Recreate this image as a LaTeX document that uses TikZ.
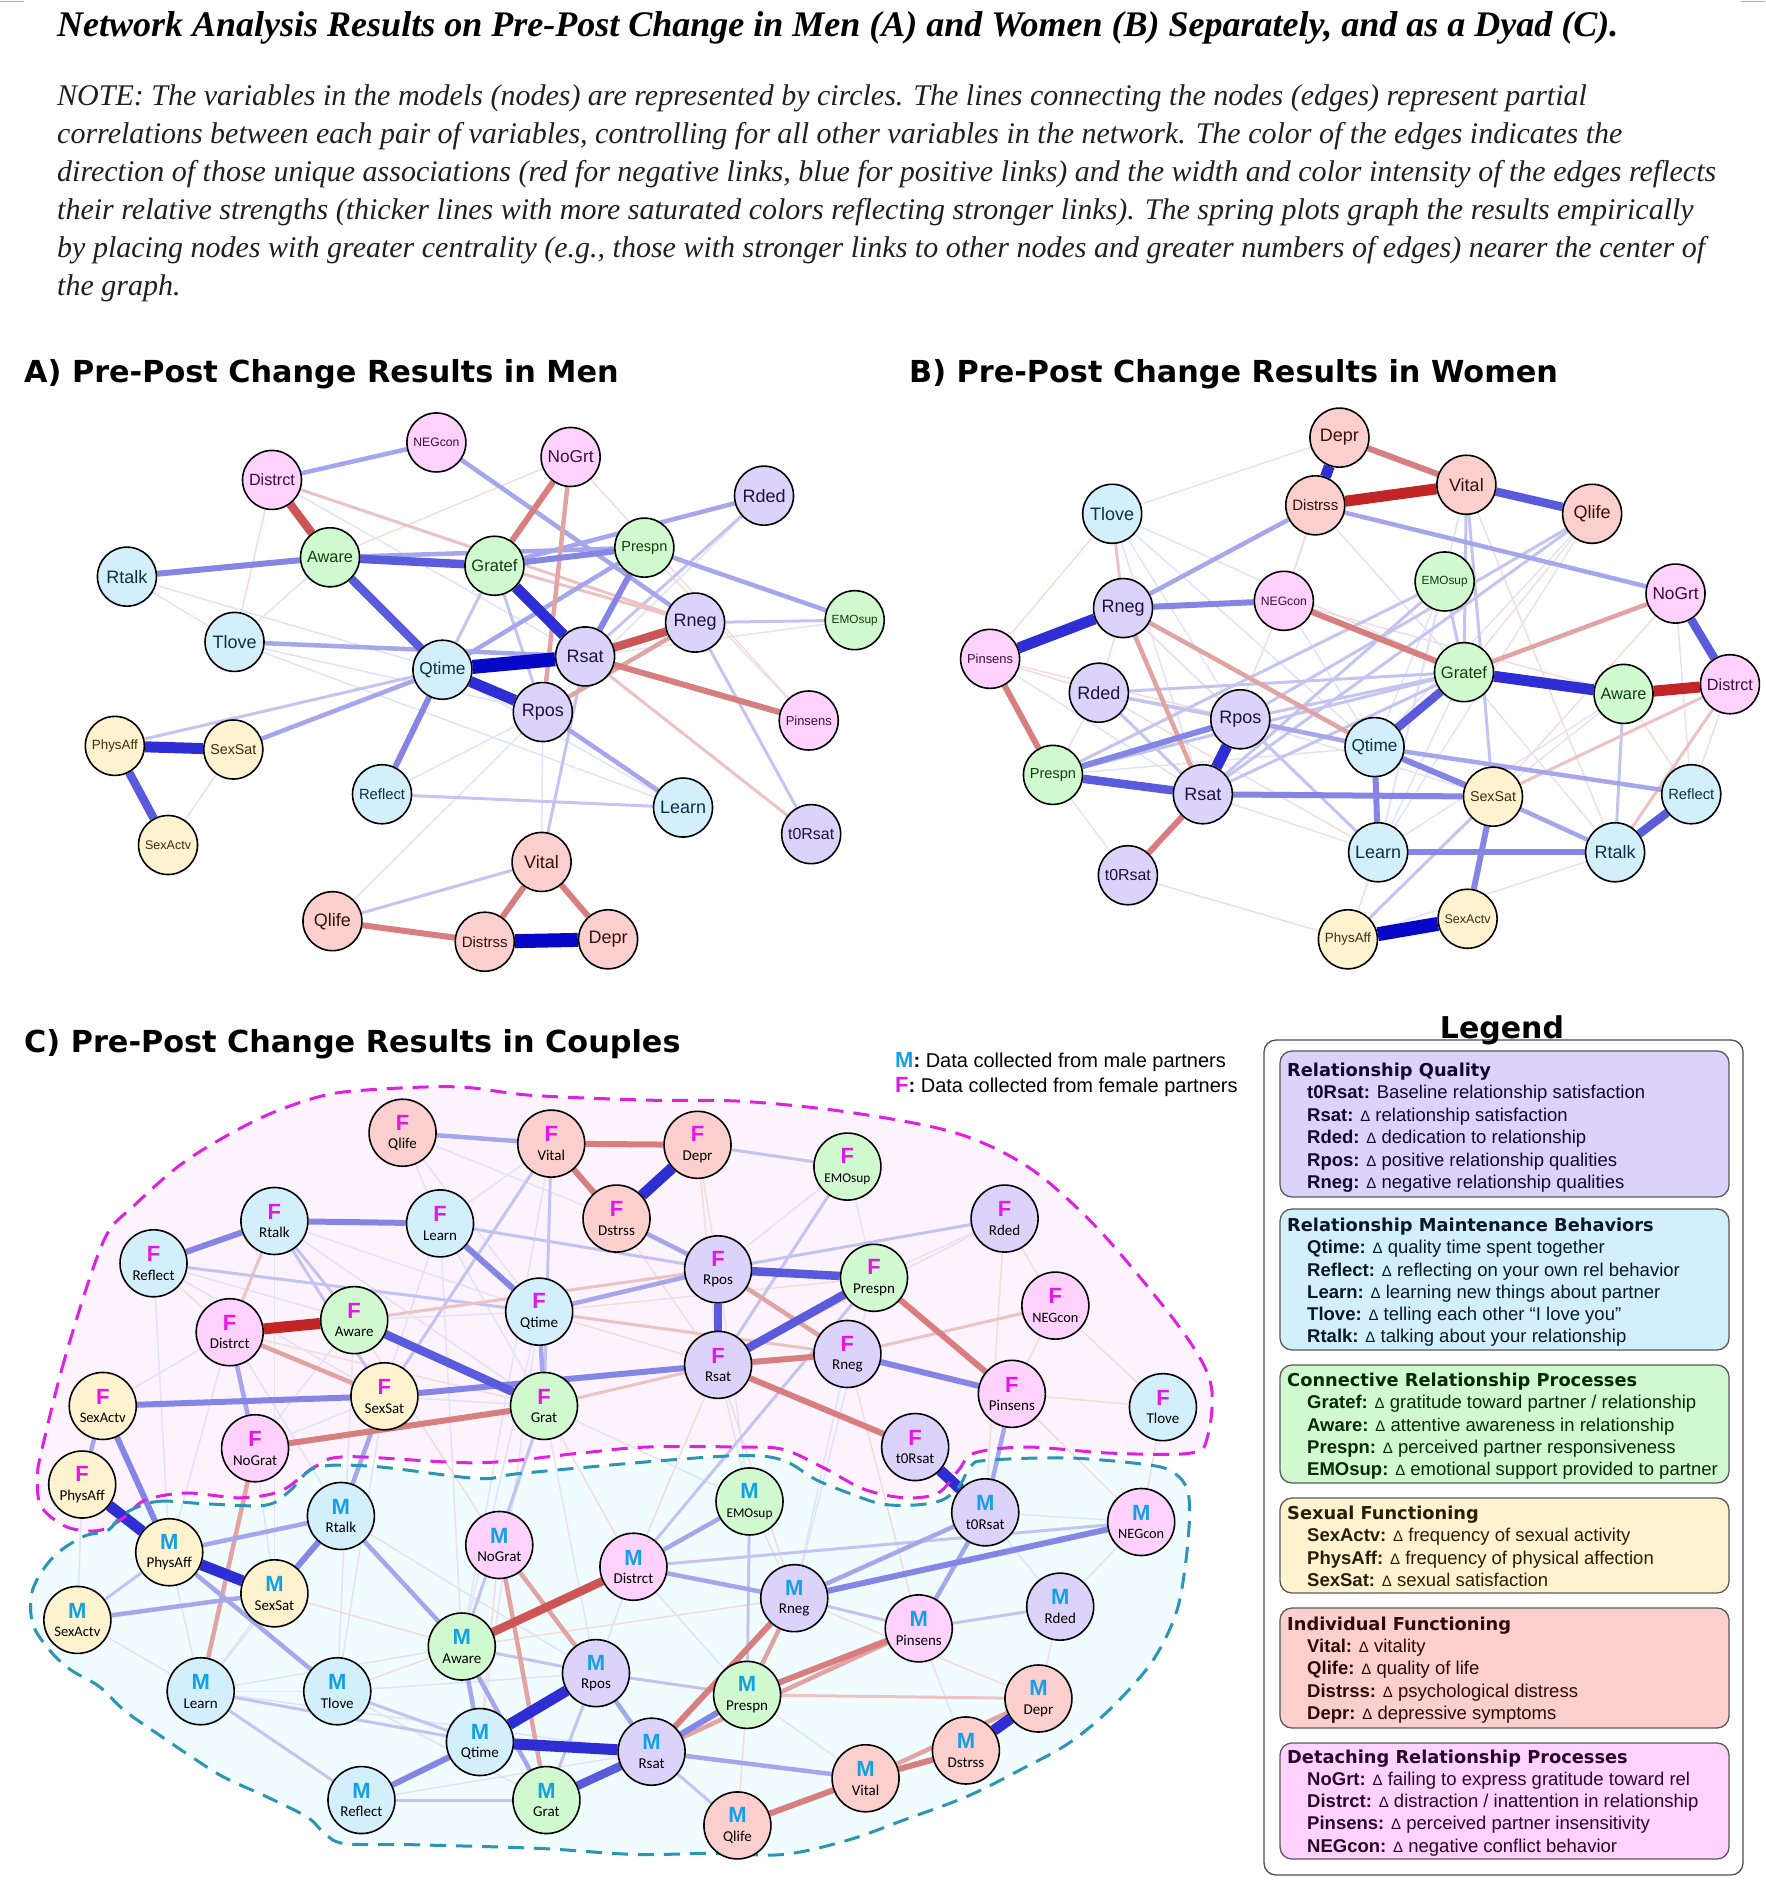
\documentclass[tikz,border=0pt]{standalone}
\usepackage{fontspec}
\setmainfont{Liberation Serif}
\newfontfamily\arialf{Liberation Sans}
\newfontfamily\dejaf{DejaVu Sans}
\newfontfamily\carlf{Carlito}
\usepackage{graphicx}
\pgfdeclarelayer{back}
\pgfdeclarelayer{edges}
\pgfdeclarelayer{mid}
\pgfsetlayers{back,edges,mid,main}
\definecolor{cPur}{HTML}{DCD3FB}
\definecolor{cBlu}{HTML}{D3EFFB}
\definecolor{cGrn}{HTML}{D1F9CF}
\definecolor{cYel}{HTML}{FFF2CF}
\definecolor{cRed}{HTML}{FACFCD}
\definecolor{cMag}{HTML}{FED2FD}
\definecolor{tPur}{HTML}{201040}
\definecolor{tBlu}{HTML}{0F2F45}
\definecolor{tGrn}{HTML}{0F3F0F}
\definecolor{tYel}{HTML}{3A2E10}
\definecolor{tRed}{HTML}{3A0F0F}
\definecolor{tMag}{HTML}{3A0F3A}
\definecolor{BL1}{HTML}{E2E2F8}
\definecolor{BL2}{HTML}{C4C4F2}
\definecolor{BL3}{HTML}{A6A6EC}
\definecolor{BL4}{HTML}{8585E6}
\definecolor{BL5}{HTML}{5A5ADD}
\definecolor{BL6}{HTML}{2E2ED4}
\definecolor{BL7}{HTML}{0707C8}
\definecolor{RD1}{HTML}{F4DCDC}
\definecolor{RD2}{HTML}{ECC2C2}
\definecolor{RD3}{HTML}{E2A3A3}
\definecolor{RD4}{HTML}{D97E7E}
\definecolor{RD5}{HTML}{CE5555}
\definecolor{RD6}{HTML}{C22525}
\definecolor{cF}{HTML}{E616E6}
\definecolor{cM}{HTML}{14A0E6}
\definecolor{cFo}{HTML}{E020E0}
\definecolor{cMo}{HTML}{2A95B5}
\definecolor{cFfill}{HTML}{FDF3FD}
\definecolor{cMfill}{HTML}{F0FCFD}
\definecolor{hPur}{HTML}{100830}
\definecolor{hBlu}{HTML}{081828}
\definecolor{hGrn}{HTML}{082808}
\definecolor{hYel}{HTML}{281E08}
\definecolor{hRed}{HTML}{300808}
\definecolor{hMag}{HTML}{280828}
\newsavebox\labbox
\newcommand\fitlab[2]{\sbox\labbox{#2}\ifdim\wd\labbox>#1\relax\resizebox{#1}{!}{\usebox\labbox}\else\usebox\labbox\fi}
\newcommand\letF{{\arialf\bfseries\fontsize{22}{22}\selectfont\color{cF}F}}
\newcommand\letM{{\arialf\bfseries\fontsize{22}{22}\selectfont\color{cM}M}}
\newcommand\gnA[4]{\node[an,#2] (#1) at (#3) {\fitlab{46pt}{#4}};}
\newcommand\gnF[4]{\node[#2,cn] (#1) at (#3) {\letF\\\fitlab{46pt}{#4}};}
\newcommand\gnM[4]{\node[#2,cn] (#1) at (#3) {\letM\\\fitlab{46pt}{#4}};}
\newcommand\dlt{{\fontsize{15}{15}\selectfont Δ}}
\newcommand\legH[4]{\node[anchor=base west,inner sep=0pt,font=\dejaf\bfseries\fontsize{17.8}{20}\selectfont,text=#4] (#1) at (1287,#2) {#3};}
\newcommand\legE[5]{\node[anchor=base west,inner sep=0pt,font=\arialf\fontsize{18.5}{20}\selectfont,text=#5] (#1) at (1307,#2) {\textbf{#3:} \dlt\ #4};}
\tikzset{
 an/.style={circle,draw=black,line width=1.6pt,minimum size=59pt,inner sep=0pt,font=\arialf\fontsize{18}{20}\selectfont},
 cn/.style={circle,draw=black,line width=1.6pt,minimum size=67pt,inner sep=0pt,align=center,font=\carlf\fontsize{15}{18.5}\selectfont,text=black},
 pur/.style={fill=cPur,text=tPur},
 blu/.style={fill=cBlu,text=tBlu},
 grn/.style={fill=cGrn,text=tGrn},
 yel/.style={fill=cYel,text=tYel},
 red/.style={fill=cRed,text=tRed},
 mag/.style={fill=cMag,text=tMag},
 p1/.style={line width=1.5pt,draw=BL1},
 p2/.style={line width=3pt,draw=BL2},
 p3/.style={line width=4.5pt,draw=BL3},
 p4/.style={line width=6pt,draw=BL4},
 p5/.style={line width=8.5pt,draw=BL5},
 p6/.style={line width=11pt,draw=BL6},
 p7/.style={line width=14pt,draw=BL7},
 n1/.style={line width=1.5pt,draw=RD1},
 n2/.style={line width=3pt,draw=RD2},
 n3/.style={line width=4.5pt,draw=RD3},
 n4/.style={line width=6pt,draw=RD4},
 n5/.style={line width=8.5pt,draw=RD5},
 n6/.style={line width=11pt,draw=RD6},
 fline/.style={cFo,line width=3pt,dash pattern=on 16pt off 10pt},
 mline/.style={cMo,line width=3pt,dash pattern=on 16pt off 10pt},
 notetxt/.style={anchor=base west,inner sep=0pt,font=\fontsize{30}{33}\selectfont\itshape,text=black!88},
 headtxt/.style={anchor=base west,inner sep=0pt,font=\dejaf\bfseries\fontsize{30.3}{34}\selectfont},
 legbox/.style={rounded corners=12pt,draw=black!65,line width=1.3pt}
}
\def\fpath{(34,1202) (51,1133) (72,1064) (89,1020) (110,998) (154,960) (213,926) (261,908) (298,902) (377,899) (439,906) (535,910) (614,911) (702,920) (790,937) (850,965) (901,1009) (945,1059) (985,1111) (1002,1147) (999,1188) (985,1202) (918,1202) (850,1197) (806,1202) (793,1216) (776,1235) (749,1239) (715,1232) (681,1214) (648,1199) (614,1197) (535,1197) (480,1202) (395,1210) (288,1205) (261,1213) (233,1233) (199,1239) (154,1235) (120,1241) (103,1255) (82,1266) (55,1263) (34,1246) (31,1222)}
\def\mpath{(103,1252) (130,1242) (171,1244) (220,1245) (240,1233) (261,1214) (309,1213) (395,1223) (429,1219) (538,1209) (614,1204) (648,1208) (675,1224) (702,1235) (729,1244) (756,1245) (779,1241) (793,1230) (803,1213) (816,1208) (884,1206) (952,1212) (972,1219) (982,1232) (984,1255) (980,1299) (972,1337) (952,1376) (918,1414) (884,1442) (844,1464) (800,1486) (749,1505) (702,1522) (648,1534) (590,1533) (525,1534) (446,1529) (343,1526) (285,1525) (268,1516) (254,1503) (220,1486) (185,1470) (158,1453) (130,1434) (103,1415) (82,1395) (58,1381) (41,1365) (27,1343) (27,1315) (44,1288) (69,1271) (89,1266)}
\begin{document}
\begin{tikzpicture}[x=1pt,y=-1pt]
\useasboundingbox (0,0) rectangle (1765,1895);
\draw[black!30,line width=1pt] (0,1.5) -- (24,1.5);
\draw[black!30,line width=1pt] (1741,1.5) -- (1765,1.5);
% title and note
\node[anchor=base west,inner sep=0pt,font=\fontsize{36}{38}\selectfont\bfseries\itshape] (title) at (57,36) {Network Analysis Results on Pre-Post Change in Men (A) and Women (B) Separately, and as a Dyad (C).};
\node[notetxt] (note1) at (57,105) {NOTE: The variables in the models (nodes) are represented by circles. The lines connecting the nodes (edges) represent partial};
\node[notetxt] (note2) at (57,143) {correlations between each pair of variables, controlling for all other variables in the network. The color of the edges indicates the};
\node[notetxt] (note3) at (57,181) {direction of those unique associations (red for negative links, blue for positive links) and the width and color intensity of the edges reflects};
\node[notetxt] (note4) at (57,219) {their relative strengths (thicker lines with more saturated colors reflecting stronger links). The spring plots graph the results empirically};
\node[notetxt] (note5) at (57,257) {by placing nodes with greater centrality (e.g., those with stronger links to other nodes and greater numbers of edges) nearer the center of};
\node[notetxt] (note6) at (57,295) {the graph.};
% headings
\node[headtxt] (headA) at (24,382) {A) Pre-Post Change Results in Men};
\node[headtxt] (headB) at (909,382) {B) Pre-Post Change Results in Women};
\node[headtxt] (headC) at (24,1052) {C) Pre-Post Change Results in Couples};
% M/F key
\node[anchor=base west,inner sep=0pt,font=\arialf\fontsize{20}{22}\selectfont] (keyM) at (895,1067) {{\fontsize{22}{22}\selectfont\bfseries\color{cM}M}\textbf{:} Data collected from male partners};
\node[anchor=base west,inner sep=0pt,font=\arialf\fontsize{20}{22}\selectfont] (keyF) at (895,1092) {{\fontsize{22}{22}\selectfont\bfseries\color{cF}F}\textbf{:} Data collected from female partners};
% legend
\draw[legbox,draw=black!70,fill=white] (1264,1040) rectangle (1743,1875);
\node[anchor=base,inner sep=0pt,font=\dejaf\bfseries\fontsize{30}{32}\selectfont] (legtitle) at (1502,1038) {Legend};
\draw[legbox,fill=cPur] (1280,1051) rectangle (1729,1197);
\draw[legbox,fill=cBlu] (1280,1209) rectangle (1729,1350);
\draw[legbox,fill=cGrn] (1280,1365) rectangle (1729,1483);
\draw[legbox,fill=cYel] (1280,1498) rectangle (1729,1593);
\draw[legbox,fill=cRed] (1280,1608) rectangle (1729,1728);
\draw[legbox,fill=cMag] (1280,1743) rectangle (1729,1859);
\legH{lh1}{1076}{Relationship Quality}{hPur}
\node[anchor=base west,inner sep=0pt,font=\arialf\fontsize{18.5}{20}\selectfont,text=hPur] (le11) at (1307,1098) {\textbf{t0Rsat:} Baseline relationship satisfaction};
\legE{le12}{1121}{Rsat}{relationship satisfaction}{hPur}
\legE{le13}{1143}{Rded}{dedication to relationship}{hPur}
\legE{le14}{1166}{Rpos}{positive relationship qualities}{hPur}
\legE{le15}{1188}{Rneg}{negative relationship qualities}{hPur}
\legH{lh2}{1231}{Relationship Maintenance Behaviors}{hBlu}
\legE{le21}{1253}{Qtime}{quality time spent together}{hBlu}
\legE{le22}{1276}{Reflect}{reflecting on your own rel behavior}{hBlu}
\legE{le23}{1298}{Learn}{learning new things about partner}{hBlu}
\legE{le24}{1320}{Tlove}{telling each other “I love you”}{hBlu}
\legE{le25}{1342}{Rtalk}{talking about your relationship}{hBlu}
\legH{lh3}{1386}{Connective Relationship Processes}{hGrn}
\legE{le31}{1408}{Gratef}{gratitude toward partner / relationship}{hGrn}
\legE{le32}{1431}{Aware}{attentive awareness in relationship}{hGrn}
\legE{le33}{1453}{Prespn}{perceived partner responsiveness}{hGrn}
\legE{le34}{1475}{EMOsup}{emotional support provided to partner}{hGrn}
\legH{lh4}{1519}{Sexual Functioning}{hYel}
\legE{le41}{1541}{SexActv}{frequency of sexual activity}{hYel}
\legE{le42}{1564}{PhysAff}{frequency of physical affection}{hYel}
\legE{le43}{1586}{SexSat}{sexual satisfaction}{hYel}
\legH{lh5}{1630}{Individual Functioning}{hRed}
\legE{le51}{1652}{Vital}{vitality}{hRed}
\legE{le52}{1674}{Qlife}{quality of life}{hRed}
\legE{le53}{1697}{Distrss}{psychological distress}{hRed}
\legE{le54}{1719}{Depr}{depressive symptoms}{hRed}
\legH{lh6}{1763}{Detaching Relationship Processes}{hMag}
\legE{le61}{1785}{NoGrt}{failing to express gratitude toward rel}{hMag}
\legE{le62}{1807}{Distrct}{distraction / inattention in relationship}{hMag}
\legE{le63}{1829}{Pinsens}{perceived partner insensitivity}{hMag}
\legE{le64}{1852}{NEGcon}{negative conflict behavior}{hMag}

\begin{scope}[x=1.2089pt,y=-1.2089pt]
% ---------------- Panel A ----------------
\gnA{a-NEGcon}{mag}{361,366}{NEGcon}
\gnA{a-NoGrt}{mag}{472,378}{NoGrt}
\gnA{a-Distrct}{mag}{225,397}{Distrct}
\gnA{a-Rded}{pur}{632,410}{Rded}
\gnA{a-Aware}{grn}{273,461}{Aware}
\gnA{a-Gratef}{grn}{409,468}{Gratef}
\gnA{a-Prespn}{grn}{533,453}{Prespn}
\gnA{a-Rtalk}{blu}{105,477}{Rtalk}
\gnA{a-Rneg}{pur}{575,515}{Rneg}
\gnA{a-EMOsup}{grn}{707,513}{EMOsup}
\gnA{a-Tlove}{blu}{194,531}{Tlove}
\gnA{a-Qtime}{blu}{366,554}{Qtime}
\gnA{a-Rsat}{pur}{484,543}{Rsat}
\gnA{a-Rpos}{pur}{449,589}{Rpos}
\gnA{a-Pinsens}{mag}{669,596}{Pinsens}
\gnA{a-PhysAff}{yel}{95,617}{PhysAff}
\gnA{a-SexSat}{yel}{193,620}{SexSat}
\gnA{a-Reflect}{blu}{316,657}{Reflect}
\gnA{a-Learn}{blu}{565,668}{Learn}
\gnA{a-t0Rsat}{pur}{671,690}{t0Rsat}
\gnA{a-SexActv}{yel}{139,699}{SexActv}
\gnA{a-Vital}{red}{448,713}{Vital}
\gnA{a-Qlife}{red}{275,762}{Qlife}
\gnA{a-Distrss}{red}{401,779}{Distrss}
\gnA{a-Depr}{red}{503,777}{Depr}
\begin{pgfonlayer}{edges}
\foreach \s/\u/\v in {p1/EMOsup/Rsat,p1/Tlove/Rpos,p1/Rtalk/Qtime,p1/Rpos/Vital,n1/NoGrt/Pinsens,p1/Distrct/Rsat,n1/NoGrt/Aware,n1/Distrct/Tlove,p1/Qlife/Rpos,p1/SexSat/SexActv,p1/Rded/Rpos,p1/Qtime/Learn,p1/Aware/Tlove,n1/Prespn/Pinsens,p1/Rtalk/Tlove,p1/Tlove/Learn,p1/Reflect/Rpos,
 p2/Rded/Rsat,p2/Rneg/EMOsup,p2/Qtime/PhysAff,p2/Reflect/Learn,p2/Rsat/Vital,p2/Vital/Qlife,p2/Rneg/t0Rsat,n2/Rsat/t0Rsat,n2/Distrct/Rneg,n2/Gratef/Rneg,p2/Gratef/Qtime,p2/Gratef/Rpos,
 p3/Distrct/NEGcon,p3/NEGcon/Rneg,p3/Aware/Prespn,p3/Gratef/Rded,p3/Prespn/EMOsup,p3/Prespn/Qtime,p3/Tlove/Rsat,p3/Qtime/SexSat,p3/Rpos/Learn,n3/NoGrt/Rpos,n3/Rpos/Rneg,
 p4/Rtalk/Aware,p4/Gratef/Prespn,p4/Prespn/Rsat,p4/Qtime/Reflect,n4/Rsat/Pinsens,n4/Gratef/NoGrt,n4/Vital/Distrss,n4/Vital/Depr,n4/Qlife/Distrss,
 p5/Aware/Gratef,p5/Aware/Qtime,p5/PhysAff/SexActv,n5/Rsat/Rneg,n5/Distrct/Aware,
 p6/Qtime/Rpos,p6/Gratef/Rsat,p6/PhysAff/SexSat,p7/Distrss/Depr,p7/Qtime/Rsat}
 \draw[\s] (a-\u) -- (a-\v);
\end{pgfonlayer}
% ---------------- Panel B ----------------
\gnA{b-Depr}{red}{1108,362}{Depr}
\gnA{b-Vital}{red}{1213,401}{Vital}
\gnA{b-Distrss}{red}{1088,418}{Distrss}
\gnA{b-Qlife}{red}{1317,425}{Qlife}
\gnA{b-Tlove}{blu}{920,425}{Tlove}
\gnA{b-NoGrt}{mag}{1386,491}{NoGrt}
\gnA{b-NEGcon}{mag}{1062,497}{NEGcon}
\gnA{b-EMOsup}{grn}{1195,481}{EMOsup}
\gnA{b-Rneg}{pur}{929,503}{Rneg}
\gnA{b-Pinsens}{mag}{819,545}{Pinsens}
\gnA{b-Gratef}{grn}{1211,556}{Gratef}
\gnA{b-Aware}{grn}{1343,574}{Aware}
\gnA{b-Distrct}{mag}{1431,566}{Distrct}
\gnA{b-Rded}{pur}{909,573}{Rded}
\gnA{b-Rpos}{pur}{1026,595}{Rpos}
\gnA{b-Qtime}{blu}{1137,618}{Qtime}
\gnA{b-Prespn}{grn}{871,641}{Prespn}
\gnA{b-Rsat}{pur}{995,657}{Rsat}
\gnA{b-SexSat}{yel}{1235,659}{SexSat}
\gnA{b-Reflect}{blu}{1399,657}{Reflect}
\gnA{b-Learn}{blu}{1140,705}{Learn}
\gnA{b-Rtalk}{blu}{1336,705}{Rtalk}
\gnA{b-t0Rsat}{pur}{933,724}{t0Rsat}
\gnA{b-SexActv}{yel}{1214,760}{SexActv}
\gnA{b-PhysAff}{yel}{1115,777}{PhysAff}
\begin{pgfonlayer}{edges}
\foreach \s/\u/\v in {n1/PhysAff/t0Rsat,p1/Prespn/t0Rsat,p1/Tlove/Rpos,p1/Tlove/Rsat,p1/Tlove/Gratef,n1/Distrss/NEGcon,p1/Learn/PhysAff,p1/Rsat/Learn,n1/Qlife/Gratef,p1/Qlife/Learn,n1/Aware/Reflect,p1/Rded/Rneg,n1/NEGcon/Rsat,p1/EMOsup/Learn,p1/Distrss/Gratef,n1/Depr/NEGcon,p1/Aware/Learn,n1/Pinsens/Rded,p1/Tlove/Qtime,n1/Tlove/Pinsens,
 p1/Rneg/Rpos,n1/Rneg/Learn,p1/NEGcon/Qtime,n1/NEGcon/Aware,p1/Vital/Learn,p1/Qlife/Qtime,n1/NoGrt/SexSat,p1/EMOsup/Qtime,p1/Pinsens/Rsat,n1/Pinsens/Rpos,p1/Prespn/Qtime,p1/Rded/Prespn,n1/Distrct/Reflect,p1/Aware/SexSat,p1/Gratef/Learn,p1/Gratef/Rtalk,n1/Rded/Learn,p1/Rpos/SexSat,p1/PhysAff/Rtalk,p1/NoGrt/Reflect,n1/Vital/Rtalk,p1/Depr/Tlove,
 p2/Gratef/EMOsup,p2/Vital/Gratef,p2/Vital/SexSat,p2/Qlife/Rpos,p2/Qlife/Rsat,p2/EMOsup/Rsat,p2/EMOsup/Prespn,p2/Rtalk/Aware,n2/Rtalk/Distrct,n2/SexSat/Distrct,p2/Rded/Rsat,p2/Rded/Gratef,p2/PhysAff/SexSat,p2/Rpos/Learn,p2/Gratef/Rpos,p2/Gratef/Rsat,p2/Gratef/Prespn,n2/Rneg/Tlove,p2/Rded/Rpos,p2/Rded/Qtime,
 p3/Distrss/NoGrt,p3/Distrss/Rneg,n3/NoGrt/Gratef,p3/Rpos/Qtime,p3/Qtime/Reflect,p3/SexSat/Rtalk,n3/Rneg/Rsat,n3/Rneg/Qtime,
 p4/Rneg/NEGcon,n4/NEGcon/Gratef,n4/Depr/Vital,n4/Pinsens/Prespn,p4/Prespn/Rpos,n4/Rsat/t0Rsat,p4/Rsat/SexSat,p4/Qtime/SexSat,p4/Qtime/Learn,p4/Learn/Rtalk,p4/SexSat/SexActv,
 p5/Vital/Qlife,p5/NoGrt/Distrct,p5/Gratef/Qtime,p5/Prespn/Rsat,p5/Rtalk/Reflect,
 p6/Rneg/Pinsens,p6/Gratef/Aware,p6/Rpos/Rsat,n6/Distrss/Vital,n6/Aware/Distrct,p6/Depr/Distrss,p7/SexActv/PhysAff}
 \draw[\s] (b-\u) -- (b-\v);
\end{pgfonlayer}
% ---------------- Panel C ----------------
\begin{pgfonlayer}{back}
\fill[cFfill] plot[smooth cycle,tension=0.55] coordinates {\fpath};
\fill[cMfill] plot[smooth cycle,tension=0.55] coordinates {\mpath};
\end{pgfonlayer}
\begin{pgfonlayer}{mid}
\draw[fline] plot[smooth cycle,tension=0.55] coordinates {\fpath};
\draw[mline] plot[smooth cycle,tension=0.55] coordinates {\mpath};
\end{pgfonlayer}
\gnF{cf-Qlife}{red}{333,937}{Qlife}
\gnF{cf-Vital}{red}{456,946}{Vital}
\gnF{cf-Depr}{red}{577,947}{Depr}
\gnF{cf-EMOsup}{grn}{701,965}{EMOsup}
\gnF{cf-Dstrss}{red}{510,1008}{Dstrss}
\gnF{cf-Rtalk}{blu}{227,1010}{Rtalk}
\gnF{cf-Learn}{blu}{364,1012}{Learn}
\gnF{cf-Rded}{pur}{831,1008}{Rded}
\gnF{cf-Reflect}{blu}{127,1045}{Reflect}
\gnF{cf-Rpos}{pur}{594,1050}{Rpos}
\gnF{cf-Prespn}{grn}{723,1057}{Prespn}
\gnF{cf-Qtime}{blu}{446,1085}{Qtime}
\gnF{cf-Distrct}{mag}{190,1102}{Distrct}
\gnF{cf-Aware}{grn}{293,1092}{Aware}
\gnF{cf-NEGcon}{mag}{873,1080}{NEGcon}
\gnF{cf-Rneg}{pur}{701,1120}{Rneg}
\gnF{cf-Rsat}{pur}{594,1129}{Rsat}
\gnF{cf-SexActv}{yel}{85,1163}{SexActv}
\gnF{cf-SexSat}{yel}{318,1155}{SexSat}
\gnF{cf-Grat}{grn}{450,1163}{Grat}
\gnF{cf-Pinsens}{mag}{837,1153}{Pinsens}
\gnF{cf-Tlove}{blu}{962,1164}{Tlove}
\gnF{cf-NoGrat}{mag}{211,1198}{NoGrat}
\gnF{cf-t0Rsat}{pur}{757,1197}{t0Rsat}
\gnF{cf-PhysAff}{yel}{68,1228}{PhysAff}
\gnM{cm-t0Rsat}{pur}{815,1251}{t0Rsat}
\gnM{cm-EMOsup}{grn}{620,1242}{EMOsup}
\gnM{cm-NEGcon}{mag}{944,1259}{NEGcon}
\gnM{cm-Rtalk}{blu}{282,1254}{Rtalk}
\gnM{cm-PhysAff}{yel}{140,1284}{PhysAff}
\gnM{cm-NoGrat}{mag}{413,1278}{NoGrat}
\gnM{cm-Distrct}{mag}{524,1296}{Distrct}
\gnM{cm-SexSat}{yel}{227,1318}{SexSat}
\gnM{cm-Rneg}{pur}{657,1322}{Rneg}
\gnM{cm-Rded}{pur}{877,1329}{Rded}
\gnM{cm-SexActv}{yel}{64,1340}{SexActv}
\gnM{cm-Pinsens}{mag}{760,1347}{Pinsens}
\gnM{cm-Aware}{grn}{382,1362}{Aware}
\gnM{cm-Rpos}{pur}{493,1384}{Rpos}
\gnM{cm-Learn}{blu}{166,1399}{Learn}
\gnM{cm-Tlove}{blu}{279,1399}{Tlove}
\gnM{cm-Prespn}{grn}{618,1402}{Prespn}
\gnM{cm-Depr}{red}{859,1405}{Depr}
\gnM{cm-Qtime}{blu}{397,1441}{Qtime}
\gnM{cm-Rsat}{pur}{539,1449}{Rsat}
\gnM{cm-Dstrss}{red}{799,1448}{Dstrss}
\gnM{cm-Vital}{red}{716,1471}{Vital}
\gnM{cm-Reflect}{blu}{299,1489}{Reflect}
\gnM{cm-Grat}{grn}{452,1489}{Grat}
\gnM{cm-Qlife}{red}{610,1510}{Qlife}
\begin{pgfonlayer}{edges}
\foreach \s/\u/\v in {p1/cf-Reflect/cf-Aware,p1/cf-Qlife/cf-Dstrss,n1/cf-Depr/cf-Rpos,n1/cf-Tlove/cf-Pinsens,p1/cf-PhysAff/cm-SexActv,p1/cf-Grat/cm-NoGrat,p1/cf-Vital/cm-Aware,n1/cf-Rsat/cm-Rneg,p1/cf-Rsat/cm-EMOsup,p1/cf-Qtime/cm-Qtime,p1/cf-Learn/cm-Rtalk,p1/cf-Rneg/cm-Rneg,n1/cf-Pinsens/cm-NEGcon,n1/cf-Rded/cm-t0Rsat,p1/cf-Reflect/cm-PhysAff,p1/cf-Aware/cm-Tlove,p1/cf-Rtalk/cm-SexSat,p1/cm-SexSat/cm-Learn,p1/cm-Learn/cm-Tlove,n1/cf-NEGcon/cf-Rded,n1/cf-Qtime/cf-Prespn,p1/cf-Qlife/cf-Learn,n1/cf-Grat/cm-Distrct,p1/cf-Distrct/cm-Rtalk,n1/cf-Tlove/cm-NEGcon,p1/cm-Rded/cm-NEGcon,n1/cm-Aware/cm-Rneg,p1/cm-Learn/cm-Rsat,n1/cm-Depr/cm-Rneg,p1/cm-Tlove/cm-Rpos,
 p1/cf-Vital/cf-Learn,p1/cf-Qlife/cf-Qtime,p1/cf-Learn/cf-Grat,p1/cf-Rtalk/cf-Qtime,p1/cf-Reflect/cf-SexSat,p1/cf-Aware/cf-Qtime,n1/cf-Distrct/cf-Grat,n1/cf-Qtime/cf-Rsat,n1/cf-Dstrss/cf-Rsat,n1/cf-Depr/cf-Rsat,p1/cf-EMOsup/cf-Prespn,p1/cf-EMOsup/cf-Rpos,p1/cf-Rded/cf-Prespn,n1/cf-NEGcon/cf-Pinsens,n1/cf-Rded/cf-Rsat,p1/cf-SexSat/cf-Grat,p1/cf-NoGrat/cf-SexSat,p1/cf-SexActv/cf-Distrct,n1/cf-Reflect/cf-Distrct,p1/cf-Rtalk/cf-Grat,p1/cf-Aware/cf-NoGrat,n1/cf-Tlove/cf-NEGcon,
 p1/cf-Qtime/cm-Aware,p1/cf-SexSat/cm-Tlove,p1/cf-Grat/cm-Rpos,n1/cf-Rsat/cm-Distrct,p1/cf-Prespn/cm-Rneg,n1/cf-Rneg/cm-Pinsens,p1/cf-Grat/cm-EMOsup,p1/cf-NoGrat/cm-SexSat,n1/cf-Aware/cm-NoGrat,p1/cf-Rpos/cm-EMOsup,p1/cf-Learn/cm-Aware,p1/cf-Distrct/cm-PhysAff,
 p1/cm-Rtalk/cm-Learn,p1/cm-Rtalk/cm-Rpos,n1/cm-NoGrat/cm-Qtime,p1/cm-Distrct/cm-Rpos,p1/cm-Distrct/cm-Prespn,p1/cm-EMOsup/cm-Rneg,p1/cm-t0Rsat/cm-NEGcon,p1/cm-t0Rsat/cm-Rded,p1/cm-Pinsens/cm-Dstrss,p1/cm-Prespn/cm-Vital,n1/cm-Aware/cm-Tlove,p1/cm-Learn/cm-Aware,n1/cm-SexSat/cm-Aware,p1/cm-Tlove/cm-Grat,p1/cm-Reflect/cm-Rsat,n1/cm-Qlife/cm-Prespn,p1/cm-PhysAff/cm-Learn,p1/cm-SexActv/cm-Learn,p1/cm-Rded/cm-Depr,
 n2/cf-Rtalk/cf-Distrct,p2/cf-Rtalk/cf-Aware,p2/cf-Rtalk/cf-SexSat,p2/cf-Reflect/cf-Qtime,p2/cf-Vital/cf-SexSat,p2/cf-Vital/cf-Grat,p2/cf-Learn/cf-Rpos,n2/cf-Rneg/cf-NEGcon,p2/cf-Rpos/cf-Rded,p2/cf-EMOsup/cf-Rsat,n2/cf-Grat/cf-Rsat,n2/cf-Qtime/cf-Rneg,n2/cf-Aware/cf-Rpos,p2/cf-Depr/cf-EMOsup,p2/cf-Grat/cm-Aware,p2/cf-Prespn/cm-Distrct,
 p2/cm-SexActv/cm-PhysAff,p2/cm-Reflect/cm-Grat,p2/cm-Learn/cm-Qtime,p2/cm-Learn/cm-Reflect,p2/cm-Tlove/cm-Qtime,p2/cm-Rpos/cm-Grat,p2/cm-Rneg/cm-Pinsens,p2/cm-EMOsup/cm-Prespn,n2/cm-Depr/cm-Prespn,p2/cm-Rsat/cm-Qlife,p2/cm-Pinsens/cm-Rded,p2/cm-NEGcon/cm-Distrct,p2/cm-Rpos/cm-Prespn,p2/cm-Aware/cm-Rpos,
 p3/cf-Qlife/cf-Vital,n3/cf-Distrct/cf-SexSat,p3/cf-NoGrat/cf-Distrct,p3/cf-Qtime/cf-Grat,p3/cf-Qtime/cf-Rpos,n3/cf-Rpos/cf-Rneg,p3/cf-Dstrss/cf-Rpos,p3/cf-Pinsens/cm-t0Rsat,p3/cf-SexActv/cf-PhysAff,p3/cf-SexSat/cm-Rtalk,n3/cf-NoGrat/cm-Learn,
 p3/cm-PhysAff/cm-Rtalk,p3/cm-SexActv/cm-SexSat,p3/cm-PhysAff/cm-Tlove,p3/cm-Rtalk/cm-Aware,n3/cm-NoGrat/cm-Grat,n3/cm-NoGrat/cm-Rpos,p3/cm-Aware/cm-Qtime,p3/cm-Aware/cm-Grat,n3/cm-Rsat/cm-Pinsens,n3/cm-Prespn/cm-Rneg,p3/cm-Rneg/cm-t0Rsat,p3/cm-Pinsens/cm-t0Rsat,p3/cm-Rneg/cm-Distrct,p3/cm-EMOsup/cm-Distrct,p3/cm-Rsat/cm-Vital,n3/cm-Vital/cm-Depr,p3/cm-Rpos/cm-Rsat,
 p4/cf-Reflect/cf-Rtalk,p4/cf-Rtalk/cf-Learn,p4/cf-Learn/cf-Qtime,p4/cf-SexActv/cf-SexSat,p4/cf-SexSat/cf-Rsat,n4/cf-NoGrat/cf-Grat,n4/cf-Vital/cf-Depr,n4/cf-Vital/cf-Dstrss,p4/cf-Rneg/cf-Pinsens,n4/cf-Prespn/cf-Pinsens,n4/cf-Rsat/cf-t0Rsat,n4/cf-Rsat/cf-Rneg,p4/cf-SexActv/cm-PhysAff,
 p4/cm-SexSat/cm-Rtalk,p4/cm-Qtime/cm-Reflect,p4/cm-Rsat/cm-Prespn,n4/cm-Rsat/cm-Rneg,n4/cm-Prespn/cm-Pinsens,p4/cm-Rneg/cm-NEGcon,n4/cm-Vital/cm-Qlife,n4/cm-Vital/cm-Dstrss,
 p5/cf-Aware/cf-Grat,p5/cf-Rpos/cf-Prespn,p5/cf-Rpos/cf-Rsat,p5/cf-Rsat/cf-Prespn,n5/cm-Aware/cm-Distrct,p5/cm-Grat/cm-Rsat,
 p6/cf-Dstrss/cf-Depr,p6/cf-PhysAff/cm-PhysAff,p6/cm-PhysAff/cm-SexSat,p6/cm-Qtime/cm-Rpos,p6/cm-Qtime/cm-Rsat,p6/cm-Dstrss/cm-Depr,n6/cf-Distrct/cf-Aware,p6/cf-t0Rsat/cm-t0Rsat}
 \draw[\s] (\u) -- (\v);
\end{pgfonlayer}
\end{scope}
\end{tikzpicture}
\end{document}
